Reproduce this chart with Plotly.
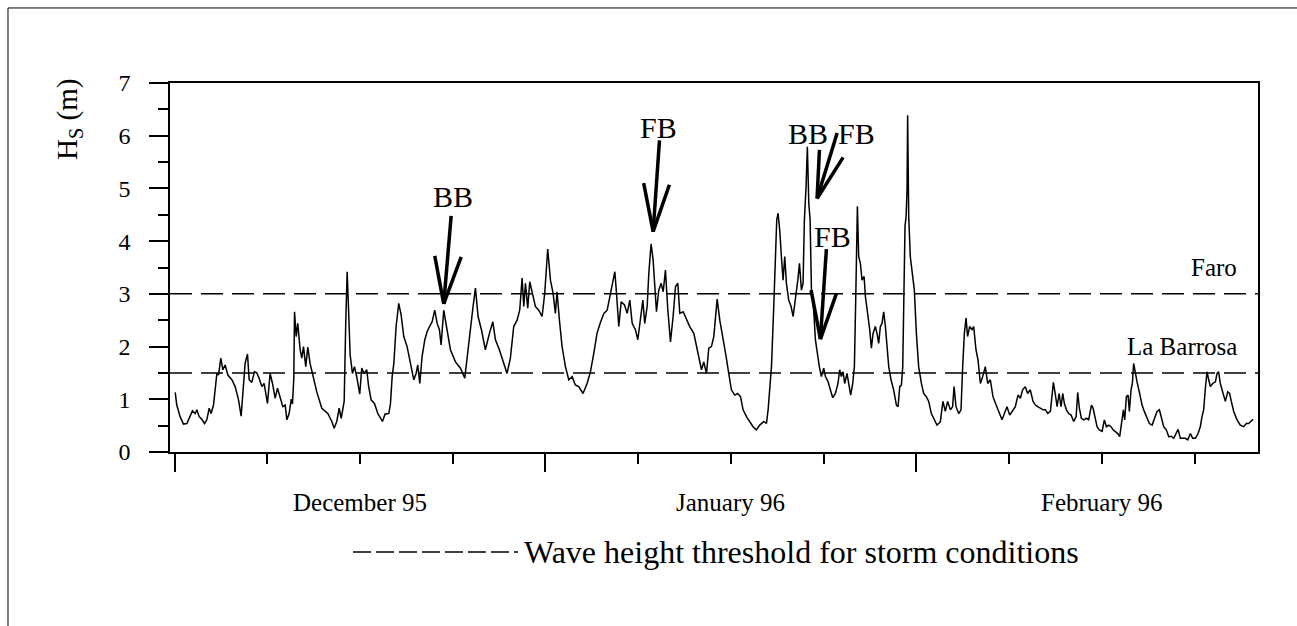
import plotly.graph_objects as go

# ---- data: significant wave height (m) vs. days since 1 Dec 1995 ----
d1 = [0.06,0.19,0.47,0.75,1.03,1.31,1.50,1.73,1.87,2.06,
      2.28,2.51,2.70,2.90,3.06,3.26,3.54,3.68,3.87,4.04,
      4.23,4.46,4.79,5.07,5.35,5.57,5.76,5.90,6.10,6.24,
      6.46,6.68,6.88,7.07,7.30,7.49,7.77,7.99,8.19,8.41,
      8.61,8.83,9.05,9.25,9.39,9.58,9.75,9.86,9.97,10.03,
      10.17,10.30,10.50,10.64,10.78,10.97,11.14,11.33,11.61,11.89,
      12.31,12.81,13.15,13.34,13.56,13.76,13.93,14.18,14.31,14.43,
      14.54,14.68,14.87,15.04,15.23,15.48,15.65,15.85,16.07,16.21,
      16.43,16.71,16.99,17.38,17.60]
h1 = [1.13,0.89,0.67,0.53,0.54,0.70,0.78,0.73,0.80,0.67,
      0.62,0.54,0.61,0.83,0.73,0.89,1.49,1.46,1.78,1.56,
      1.65,1.46,1.37,1.24,0.99,0.68,1.30,1.68,1.86,1.37,
      1.32,1.52,1.50,1.40,1.24,1.30,0.92,1.49,1.30,1.02,
      1.21,1.05,0.86,0.89,0.61,0.73,1.00,0.91,1.40,2.66,
      2.19,2.44,1.94,1.78,2.00,1.62,1.99,1.68,1.43,1.14,
      0.83,0.73,0.58,0.45,0.58,0.83,0.64,0.96,2.44,3.42,
      2.74,1.84,1.49,1.62,1.43,1.10,1.59,1.49,1.56,1.27,
      0.99,0.92,0.73,0.58,0.72]

d2 = [17.91,18.05,18.19,18.33,18.52,18.74,18.94,19.16,19.44,19.72,
      20.00,20.19,20.33,20.50,20.69,20.92,21.11,21.31,21.53,21.75,
      21.95,22.14,22.28,22.50,22.78,23.06,23.48,23.90,24.26,24.45,
      24.73,24.95,25.15,25.37,25.65,25.98,26.32,26.60,26.82,27.15,
      27.52,27.79,28.07,28.35,28.63,28.85,29.05,29.19,29.33,29.52,
      29.69,29.88,30.16,30.44,30.72,30.94,31.19,31.42,31.64,31.83,
      31.97,32.17,32.39,32.67,32.95,33.23,33.50,33.78,34.14,34.48,
      34.76,35.04,35.31,35.59]
h2 = [0.73,0.92,1.43,1.68,2.38,2.82,2.60,2.19,2.00,1.68,
      1.37,1.49,1.65,1.30,1.81,2.13,2.28,2.38,2.47,2.69,
      2.44,2.32,2.03,2.69,2.32,1.94,1.71,1.59,1.40,1.81,
      2.28,2.76,3.11,2.57,2.32,1.94,2.25,2.47,2.13,1.94,
      1.68,1.49,1.78,2.38,2.50,2.69,3.30,2.76,3.20,2.73,
      3.23,3.01,2.76,2.69,2.57,3.01,3.85,3.26,3.01,2.63,
      3.04,2.50,2.00,1.62,1.37,1.43,1.27,1.24,1.11,1.30,
      1.52,1.87,2.25,2.45]

d3 = [35.88,36.16,36.44,36.66,36.80,36.94,37.13,37.33,37.61,37.83,
      38.05,38.25,38.52,38.72,38.94,39.14,39.30,39.50,39.64,39.83,
      40.00,40.14,40.28,40.47,40.67,40.84,41.03,41.23,41.45,41.67,
      41.87,42.06,42.23,42.51,42.79,43.06,43.40,43.68,43.87,44.04,
      44.23,44.46,44.65,44.87,45.07,45.35,45.57,45.82,46.10,46.32,
      46.54,46.82,47.07,47.30,47.52,47.80,48.08,48.35,48.63,48.91,
      49.25,49.47,49.61,49.75,49.89,50.08,50.22,50.33,50.44,50.58,
      50.72,50.86,51.00,51.14,51.33,51.53,51.70,51.89,52.09,52.23,
      52.39,52.53,52.64,52.78,52.89,53.01,53.12,53.23,53.42]
h3 = [2.63,2.69,3.01,3.26,3.42,3.01,2.38,2.85,2.79,2.63,
      2.88,2.44,2.32,2.13,2.57,2.88,2.44,2.76,3.39,3.95,
      3.64,3.07,2.66,3.07,3.20,3.04,3.45,2.69,2.09,2.57,
      3.14,3.20,2.63,2.66,2.50,2.38,2.25,1.94,1.75,1.56,
      1.71,1.49,1.97,2.00,2.19,2.90,2.50,2.19,1.81,1.49,
      1.18,1.08,1.11,1.05,0.80,0.67,0.58,0.48,0.42,0.51,
      0.58,0.54,0.80,1.24,1.62,2.76,3.90,4.40,4.53,4.21,
      3.71,3.26,3.71,3.20,2.88,2.76,2.57,2.88,3.26,3.58,
      3.07,3.20,4.40,5.03,5.79,4.72,4.40,3.07,2.69]

d4 = [53.56,53.70,53.89,54.06,54.26,54.40,54.62,54.81,55.01,55.23,
      55.45,55.59,55.73,55.87,56.01,56.20,56.34,56.51,56.68,56.82,
      56.93,57.07,57.18,57.32,57.46,57.63,57.74,57.93,58.10,58.24,
      58.38,58.57,58.71,58.85,58.99,59.13,59.27,59.41,59.55,59.69,
      59.88,60.10,60.33,60.47,60.61,60.75,60.86,60.97,61.05,61.14,
      61.22,61.27,61.36,61.49,61.64,61.83,62.00,62.19,62.42,62.61,
      62.83,63.03,63.25,63.45,63.72,64.00,64.22,64.42,64.61,64.84,
      65.03,65.15,65.31,65.54,65.73,65.87,66.01,66.15,66.28,66.45,
      66.65,66.79,66.98,67.15,67.35,67.54,67.76,67.96,68.18,68.40,
      68.60,68.88,69.16,69.38,69.57,69.80,69.99,70.27,70.49,70.69,
      70.88,71.10,71.30,71.52]
h4 = [2.13,1.87,1.62,1.43,1.59,1.43,1.33,1.18,1.03,1.11,
      1.30,1.56,1.43,1.52,1.30,1.49,1.27,1.08,1.30,1.62,
      2.88,4.66,3.71,3.58,3.26,3.33,2.95,2.63,2.32,1.97,
      2.25,2.38,2.25,2.06,2.38,2.44,2.66,2.38,2.06,1.62,
      1.37,1.18,0.89,0.86,1.24,1.27,1.62,3.52,4.28,4.47,
      4.97,6.39,4.47,3.71,3.39,3.07,2.25,1.62,1.30,1.11,
      1.05,0.96,0.73,0.64,0.51,0.57,0.96,0.77,0.96,0.80,
      0.86,1.24,0.86,0.73,0.80,1.62,2.25,2.54,2.19,2.38,
      2.32,2.38,1.94,1.75,1.30,1.43,1.62,1.30,1.37,1.05,
      0.92,0.77,0.61,0.73,0.86,0.70,0.77,0.86,1.08,1.02,
      1.18,1.24,1.11,1.18]

d5 = [71.75,71.95,72.14,72.37,72.59,72.78,72.98,73.20,73.31,73.45,
      73.62,73.76,73.93,74.09,74.23,74.37,74.54,74.73,74.93,75.15,
      75.35,75.48,75.62,75.79,75.99,76.21,76.40,76.63,76.77,76.93,
      77.10,77.29,77.52,77.71,77.88,78.07,78.27,78.44,78.63,78.83,
      78.99,79.13,79.30,79.41,79.55,79.69,79.80,79.94,80.05,80.16,
      80.30,80.44,80.66,80.86,81.05,81.28,81.47,81.70,81.89,82.11,
      82.31,82.48,82.67,82.89,83.09,83.31,83.51,83.70,83.87,84.06,
      84.29,84.48,84.68,84.90,85.09,85.32,85.54,85.73,85.87,86.01,
      86.15,86.29,86.43,86.57,86.76,86.99,87.13,87.26,87.40,87.60,
      87.82,88.02,88.18,88.32,88.52,88.80,89.07,89.35,89.58,89.77,
      89.97,90.14]
h5 = [0.96,0.89,0.86,0.83,0.80,0.80,0.73,0.77,1.05,1.32,
      1.08,0.86,1.11,0.86,1.11,0.92,0.80,0.73,0.70,0.58,
      0.67,1.13,0.83,0.64,0.61,0.64,0.61,0.89,0.83,0.64,
      0.48,0.42,0.39,0.61,0.48,0.51,0.48,0.42,0.39,0.35,
      0.29,0.51,0.80,0.61,1.05,1.08,0.77,1.18,1.30,1.68,
      1.49,1.33,1.11,0.89,0.77,0.64,0.54,0.51,0.64,0.77,
      0.80,0.64,0.48,0.42,0.29,0.30,0.26,0.35,0.43,0.26,
      0.26,0.26,0.23,0.35,0.26,0.26,0.35,0.48,0.67,0.80,
      1.21,1.52,1.37,1.24,1.30,1.33,1.49,1.52,1.30,1.14,
      0.96,1.14,1.11,0.96,0.77,0.61,0.51,0.48,0.54,0.54,
      0.58,0.62]

days = d1 + d2 + d3 + d4 + d5
hs = h1 + h2 + h3 + h4 + h5

# storm thresholds
threshold_names = ["Faro", "La Barrosa"]
threshold_values = [3.0, 1.5]

# axis ticks
month_starts = [0, 31, 62]
week_ticks = [0, 7.75, 15.5, 23.25, 31, 38.75, 46.5, 54.25, 62, 69.75, 77.5, 85.25]
month_labels = ["December 95", "January 96", "February 96"]
month_label_pos = [15.5, 46.5, 77.5]

# event markers: label, label position (day, Hs)
event_labels = ["BB", "FB", "BB", "FB", "FB"]
event_label_x = [23.31, 40.44, 52.98, 56.99, 54.98]
event_label_y = [4.84, 6.15, 6.05, 6.05, 4.08]
# arrows: tail, tip, left barb, right barb (day, Hs)
arrow_tail = [(23.12, 4.48), (40.53, 5.91), (55.38, 6.05), (54.48, 3.85)]
arrow_tip = [(22.50, 2.81), (40.00, 4.18), (53.70, 4.81), (53.98, 2.14)]
arrow_left = [(21.75, 3.72), (39.21, 5.10), (53.90, 5.73), (53.20, 3.07)]
arrow_right = [(23.96, 3.70), (41.36, 5.07), (55.88, 5.59), (55.32, 3.01)]

SERIF = "Liberation Serif"

fig = go.Figure()
fig.add_trace(go.Scatter(x=days, y=hs, mode="lines",
                         line=dict(color="black", width=1.5),
                         showlegend=False, hoverinfo="skip"))

shapes = []
for v in threshold_values:
    shapes.append(dict(type="line", xref="paper", yref="y", x0=0, x1=1, y0=v, y1=v,
                       line=dict(color="black", width=1.5, dash="22px,9px"), layer="below"))

for tail, tip, lb, rb in zip(arrow_tail, arrow_tip, arrow_left, arrow_right):
    for p in (tail, lb, rb):
        shapes.append(dict(type="line", xref="x", yref="y", x0=p[0], y0=p[1],
                           x1=tip[0], y1=tip[1], line=dict(color="black", width=3.5)))

# legend sample line (paper coords)
shapes.append(dict(type="line", xref="paper", yref="paper", x0=0.1682, x1=0.3199,
                   y0=-0.271, y1=-0.271, line=dict(color="black", width=1.5, dash="18px,5px")))
# outer frame
shapes.append(dict(type="rect", xref="paper", yref="paper", x0=-0.1489, x1=1.05,
                   y0=-0.5, y1=1.2033, line=dict(color="black", width=1)))

annotations = []
for lab, x, y in zip(event_labels, event_label_x, event_label_y):
    annotations.append(dict(text=lab, x=x, y=y, xref="x", yref="y", showarrow=False,
                            xanchor="center", yanchor="middle",
                            font=dict(family=SERIF, size=30, color="black")))
for name, v in zip(threshold_names, threshold_values):
    annotations.append(dict(text=name, x=88.99, y=v + 0.5, xref="x", yref="y",
                            xanchor="right", yanchor="middle", showarrow=False,
                            font=dict(family=SERIF, size=25, color="black")))
for lab, x in zip(month_labels, month_label_pos):
    annotations.append(dict(text=lab, x=x, y=-0.136, xref="x", yref="paper",
                            xanchor="center", yanchor="middle",
                            showarrow=False, font=dict(family=SERIF, size=25, color="black")))
annotations.append(dict(text="Wave height threshold for storm conditions", x=0.3235, y=-0.271,
                        xref="paper", yref="paper", xanchor="left", yanchor="middle",
                        showarrow=False,
                        font=dict(family=SERIF, size=32, color="black")))
annotations.append(dict(text="H<sub>S</sub> (m)", x=-0.0928, y=0.90, xref="paper", yref="paper",
                        xanchor="center", yanchor="middle",
                        textangle=-90, showarrow=False,
                        font=dict(family=SERIF, size=29, color="black")))

fig.update_layout(
    width=1297, height=626,
    margin=dict(l=170, r=39, t=83, b=174),
    paper_bgcolor="white", plot_bgcolor="white",
    shapes=shapes, annotations=annotations,
    xaxis=dict(range=[-0.376, 90.55], showgrid=False, zeroline=False,
               showline=True, linecolor="black", linewidth=1.5, mirror=True,
               tickmode="array", tickvals=month_starts, ticks="outside",
               ticklen=18, tickwidth=1.5, tickcolor="black", showticklabels=False,
               minor=dict(tickmode="array", tickvals=week_ticks, ticks="outside",
                          ticklen=10, tickwidth=1.5, tickcolor="black")),
    yaxis=dict(range=[0, 7], showgrid=False, zeroline=False,
               showline=True, linecolor="black", linewidth=1.5, mirror=True,
               tickmode="linear", tick0=0, dtick=1, ticks="outside",
               ticklen=19, tickwidth=1.5, tickcolor="black",
               tickfont=dict(family=SERIF, size=24, color="black"),
               ticklabelstandoff=14,
               minor=dict(tickmode="linear", tick0=0, dtick=0.5, ticks="outside",
                          ticklen=10, tickwidth=1.5, tickcolor="black")),
)

fig.write_html("out.html")
